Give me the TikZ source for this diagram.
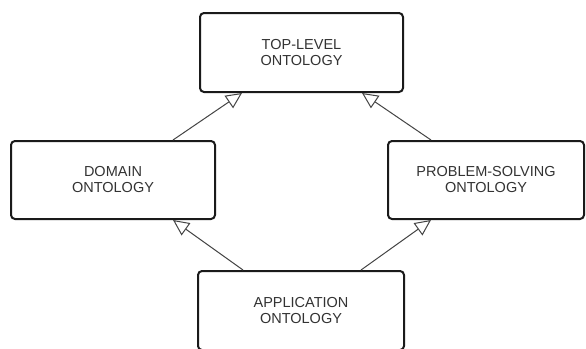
\documentclass[tikz,border=0pt]{standalone}
\usepackage{fontspec}
\setmainfont{Liberation Sans}
\usetikzlibrary{arrows.meta}
\definecolor{txt}{HTML}{333333}
\definecolor{edge}{HTML}{1A1A1A}
\definecolor{conn}{HTML}{444444}
\tikzset{
  onto/.style={draw=edge, line width=2pt, rounded corners=4pt, fill=white,
    text=txt, align=center, inner sep=0pt,
    font=\fontsize{14.5}{16}\selectfont},
  isa/.style={draw=conn, line width=1pt,
    -{Triangle[open, length=16pt, width=15pt, fill=white]}}
}
\begin{document}
\begin{tikzpicture}[x=1pt, y=-1pt]
\useasboundingbox (0,0) rectangle (586,348);
\clip (0,0) rectangle (586,348);
\fill[white] (0,0) rectangle (586,348);
\node[onto, minimum width=203pt, minimum height=79pt] (top) at (301.5,52.5) {TOP-LEVEL\\ONTOLOGY};
\node[onto, minimum width=204pt, minimum height=78pt] (dom) at (113,180) {DOMAIN\\ONTOLOGY};
\node[onto, minimum width=196pt, minimum height=78pt] (ps) at (486,180) {PROBLEM-SOLVING\\ONTOLOGY};
\node[onto, minimum width=206pt, minimum height=79pt] (app) at (301,310.5) {APPLICATION\\ONTOLOGY};
\draw[isa] ([xshift=60pt]dom.north) -- ([xshift=-59.5pt]top.south);
\draw[isa] ([xshift=-55pt]ps.north) -- ([xshift=60.5pt]top.south);
\draw[isa] ([xshift=-58pt]app.north) -- ([xshift=60pt]dom.south);
\draw[isa] ([xshift=60pt]app.north) -- ([xshift=-55pt]ps.south);
\end{tikzpicture}
\end{document}
